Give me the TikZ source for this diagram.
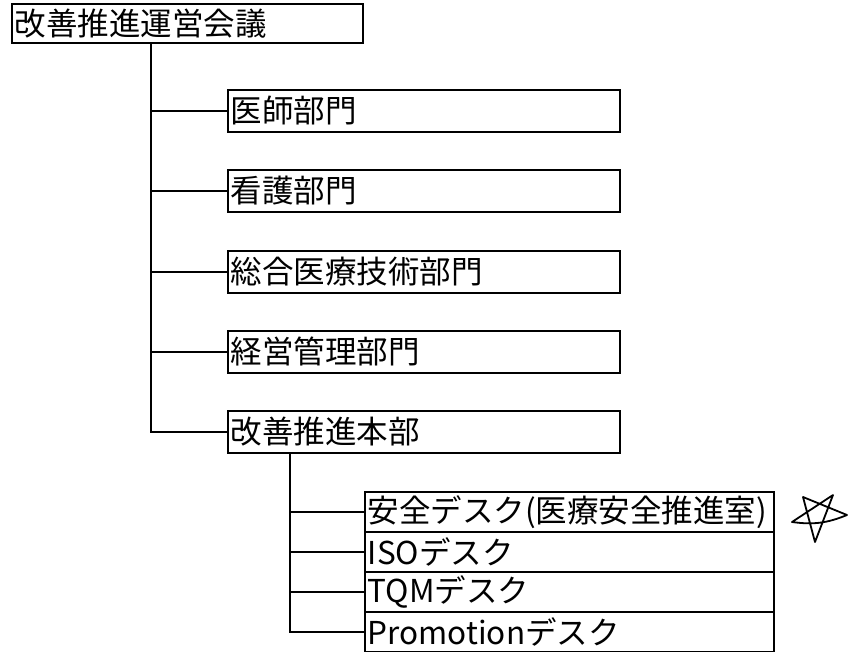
\documentclass[tikz,border=0pt]{standalone}
\usepackage{fontspec}
\setmainfont{Noto Sans CJK JP}
\begin{document}
\begin{tikzpicture}[x=1pt,y=-1pt,
  box/.style={draw, line width=1.6pt, anchor=north west, inner xsep=3pt, inner ysep=0pt,
    align=left, font=\fontsize{31.5}{33}\selectfont},
  lvltwo/.style={box, text width=386pt, minimum height=42pt},
  lvlthree/.style={box, text width=403pt, minimum height=40pt},
  link/.style={line width=1.6pt},
  mark star/.style={line width=1.8pt, line join=round, line cap=round}]
\useasboundingbox (0,0) rectangle (848,652);

\node[box, text width=345pt, minimum height=39pt] (top) at (11,3) {改善推進運営会議};

\node[lvltwo] (d1) at (227,89)  {医師部門};
\node[lvltwo] (d2) at (227,169) {看護部門};
\node[lvltwo] (d3) at (227,250) {総合医療技術部門};
\node[lvltwo] (d4) at (227,330) {経営管理部門};
\node[lvltwo] (d5) at (227,410) {改善推進本部};

\node[lvlthree] (s1) at (364,491) {安全デスク(医療安全推進室)};
\node[lvlthree] (s2) at (364,531) {ISOデスク};
\node[lvlthree] (s3) at (364,571) {TQMデスク};
\node[lvlthree] (s4) at (364,611) {Promotionデスク};

\coordinate (v1) at (151,0);
\coordinate (v2) at (290,0);

\draw[link] (top.south -| v1) -- (v1 |- d5.west) -- (d5.west);
\foreach \n in {d1,d2,d3,d4} \draw[link] (v1 |- \n.west) -- (\n.west);

\draw[link] (d5.south -| v2) -- (v2 |- s4.west) -- (s4.west);
\foreach \n in {s1,s2,s3} \draw[link] (v2 |- \n.west) -- (\n.west);

\draw[mark star] (815,542) -- (803,497) -- (847,515) to[bend left=15] (792,522) -- (833,495) -- cycle;
\end{tikzpicture}
\end{document}
